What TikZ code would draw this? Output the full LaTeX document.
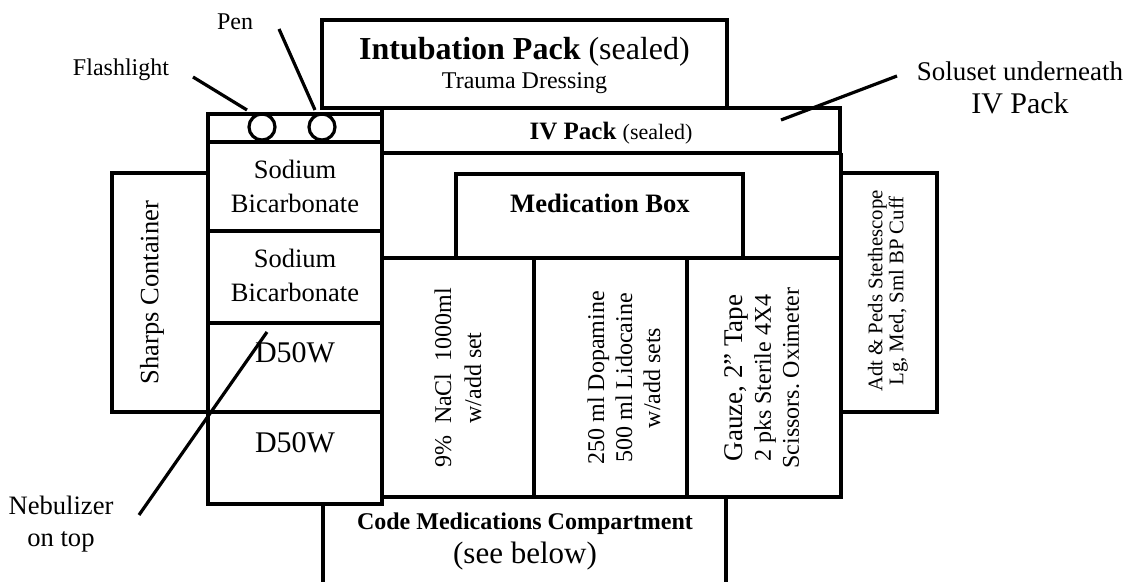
\documentclass[tikz,border=0pt]{standalone}
\usepackage{fontspec}
\setmainfont{Liberation Serif}
\usetikzlibrary{positioning}
\newcommand{\fsz}[2]{\fontsize{#1}{#2}\selectfont}

\begin{document}
\begin{tikzpicture}[x=0.5pt,y=-0.5pt,line width=1.6pt,
  lbl/.style={inner sep=0pt,align=center},
  vlbl/.style={lbl,rotate=90},
  lead/.style={line width=1.6pt}]
  \useasboundingbox (0,0) rectangle (1126,582);
  % top packs
  \draw (322,20) rectangle (727,108);
  \draw (382,108) rectangle (840,153);
  % left column of drawers
  \draw (208,114) rectangle (382,504);
  \foreach \y in {142,231,323,412}
    \draw (208,\y) -- (382,\y);
  \node[circle,draw,minimum size=13pt,inner sep=0pt] (flash) at (262,127) {};
  \node[circle,draw,minimum size=13pt,inner sep=0pt] (pen) at (322,127) {};
  % side boxes
  \draw (112,173) rectangle (208,412);
  \draw (841,173) rectangle (937,412);
  % main body
  \draw (841,153) -- (841,497) -- (382,497);
  \draw (382,258) -- (841,258);
  \draw (456,258) -- (456,174) -- (743,174) -- (743,258);
  \draw (534,258) -- (534,497);
  \draw (687,258) -- (687,497);
  % code compartment
  \draw (323,504) -- (323,582);
  \draw (726,497) -- (726,582);

  % texts
  \node[lbl,font=\fsz{16}{19}] (intub) at (524.5,52) {\textbf{Intubation Pack} (sealed)};
  \node[lbl,font=\fsz{12}{14}] (trauma) at (524.5,83) {Trauma Dressing};
  \node[lbl,font=\fsz{12.5}{15}] (ivpack) at (611,133) {\textbf{IV Pack} {\fsz{11}{13}(sealed)}};
  \node[lbl,font=\fsz{13.25}{17}] (soda1) at (295,186) {Sodium\\Bicarbonate};
  \node[lbl,font=\fsz{13.25}{17}] (soda2) at (295,275) {Sodium\\Bicarbonate};
  \node[lbl,font=\fsz{15}{18}] (d50a) at (295,353) {D50W};
  \node[lbl,font=\fsz{15}{18}] (d50b) at (295,443) {D50W};
  \node[vlbl,font=\fsz{13.25}{16}] (sharps) at (152,292.5) {Sharps Container};
  \node[lbl,font=\fsz{13.3}{16}] (medbox) at (600,203) {\textbf{Medication Box}};
  \node[vlbl,font=\fsz{12}{15}] (nacl) at (458,378) {9\%\ \ NaCl\ \ 1000ml\\w/add set};
  \node[vlbl,font=\fsz{12}{14}] (dopa) at (624,378) {250 ml Dopamine\\500 ml Lidocaine\\w/add sets};
  \node[vlbl,font=\fsz{12}{14}] (gauze) at (762,378) {{\fsz{13.5}{14}Gauze, 2'' Tape}\\2 pks Sterile 4X4\\Scissors.\ Oximeter};
  \node[vlbl,font=\fsz{10.4}{10.5}] (steth) at (888,291) {Adt \& Peds Stethescope\\Lg, Med, Sml BP Cuff};
  \node[lbl,font=\fsz{12}{14}] (code) at (525,524) {\textbf{Code Medications Compartment}};
  \node[lbl,font=\fsz{15.5}{18}] (below) at (525,556) {(see below)};

  % call-outs
  \node[lbl,font=\fsz{12}{14}] (flashlbl) at (121,70) {Flashlight};
  \node[lbl,font=\fsz{12}{14}] (penlbl) at (235,22) {Pen};
  \node[lbl,font=\fsz{13.5}{16.5}] (solulbl) at (1020,88) {Soluset underneath\\{\fsz{15}{16.5}IV Pack}};
  \node[lbl,font=\fsz{13.3}{16}] (nebulbl) at (61,524) {Nebulizer\\on top};
  \coordinate (flasha) at (193,77);
  \coordinate (flashb) at (247,110);
  \coordinate (pena) at (279,29);
  \coordinate (penb) at (315,110);
  \coordinate (solua) at (897,76);
  \coordinate (solub) at (781,120);
  \coordinate (nebua) at (139,515);
  \coordinate (nebub) at (267,332);
  \draw[lead] (flasha) -- (flashb);
  \draw[lead] (pena) -- (penb);
  \draw[lead] (solua) -- (solub);
  \draw[lead] (nebua) -- (nebub);
\end{tikzpicture}
\end{document}
